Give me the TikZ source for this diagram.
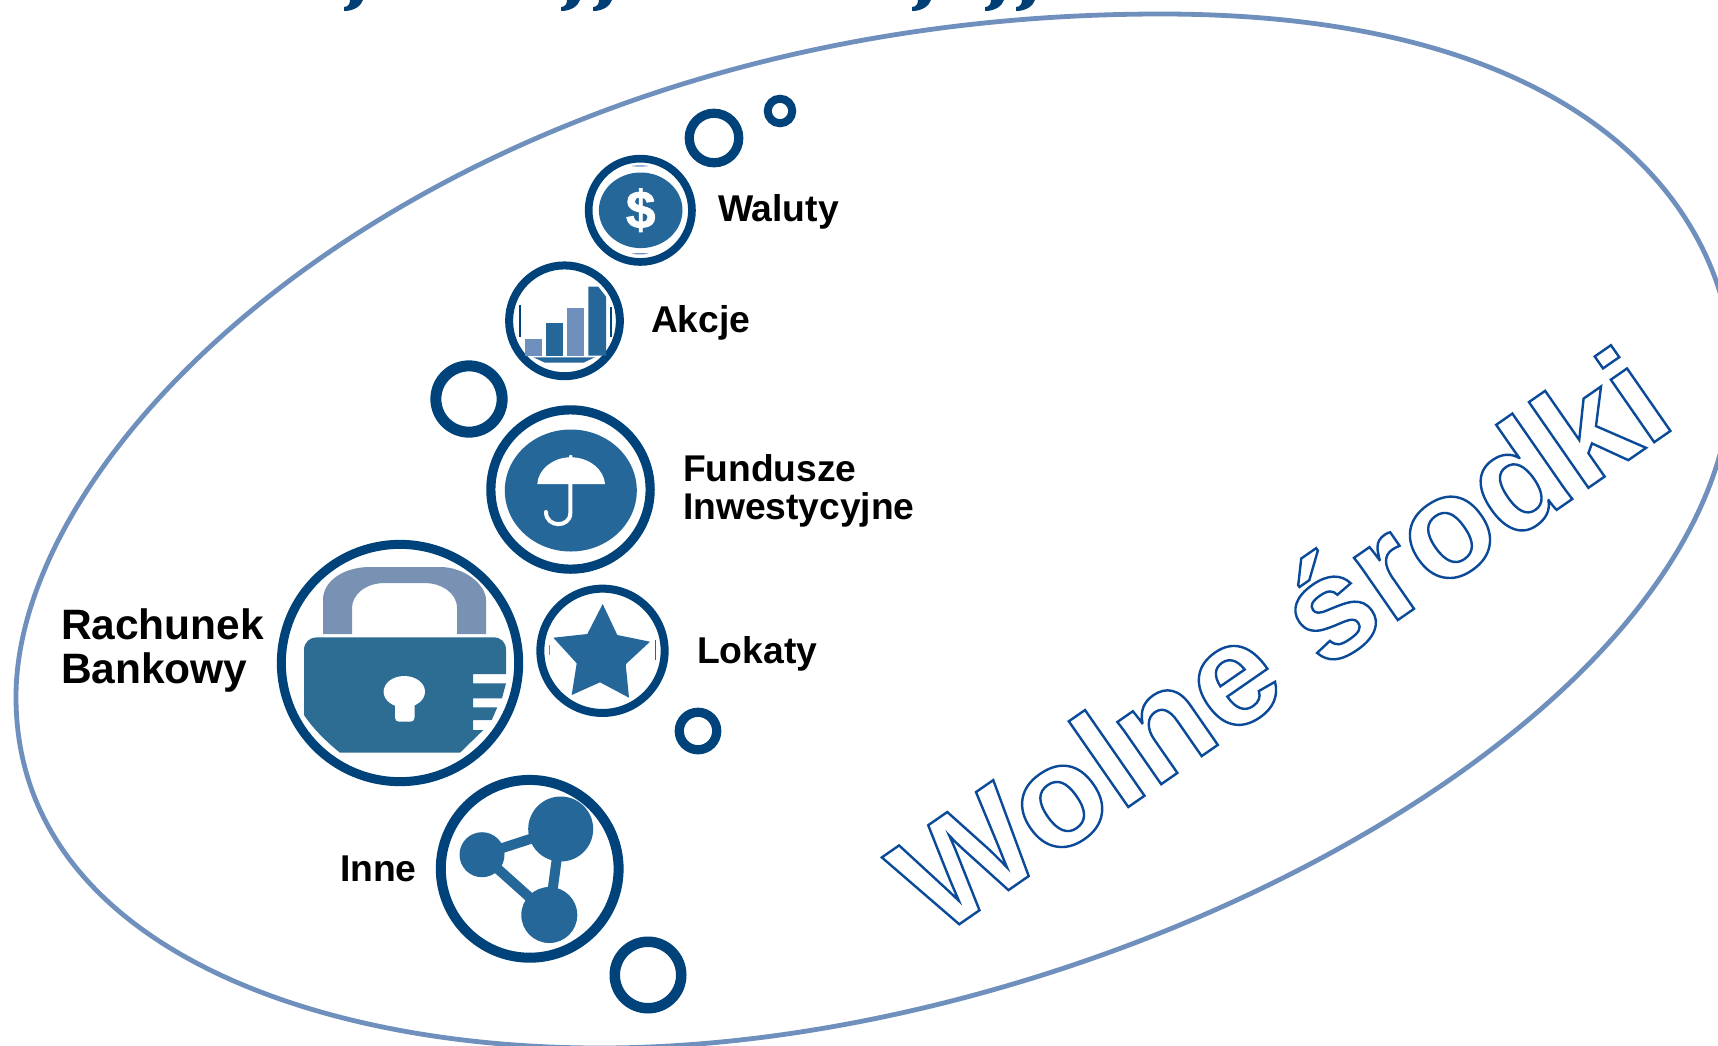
\documentclass[tikz,border=0pt]{standalone}
\usepackage{fontspec}
\setmainfont{Liberation Sans}
\definecolor{ringc}{HTML}{00437A}
\definecolor{iconc}{HTML}{26679A}
\definecolor{lightc}{HTML}{6F90BD}
\definecolor{lockb}{HTML}{2D6C93}
\definecolor{locks}{HTML}{7992B3}
\definecolor{titlec}{HTML}{003F75}
\tikzset{
  ringnode/.style={circle,draw=ringc,fill=none,inner sep=0pt,outer sep=0pt},
  lbl/.style={anchor=base west,inner sep=0pt,outer sep=0pt,text=black,font=\bfseries\fontsize{37.3}{38}\selectfont},
  lblbig/.style={anchor=west,align=left,inner sep=0pt,outer sep=0pt,text=black,font=\bfseries\fontsize{42.5}{44}\selectfont},
  lblfund/.style={anchor=west,align=left,inner sep=0pt,outer sep=0pt,text=black,font=\bfseries\fontsize{37.2}{38}\selectfont},
  icon/.style={fill=iconc,draw=none}
}
\begin{document}
\begin{tikzpicture}[x=1pt,y=-1pt]
\useasboundingbox (0,0) rectangle (1718,1045);
\clip (0,0) rectangle (1718,1045);
\fill[white] (0,0) rectangle (1718,1045);
% outer blob
\draw[lightc,line width=4.8pt] (1161,14)
  .. controls (461,14) and (16,427) .. (16,697)
  .. controls (16,937) and (300,1048) .. (600,1048)
  .. controls (1100,1048) and (1732,720) .. (1732,370)
  .. controls (1732,237) and (1618,14) .. (1161,14) -- cycle;
% title descenders
\foreach \tx in {344,561,593,912,985,1016}{
 \fill[titlec] (\tx+6,0) -- (\tx+19,0) .. controls (\tx+17,6) and (\tx+10,11) .. (\tx,11) -- (\tx,7) .. controls (\tx+4,7) and (\tx+6,4) .. (\tx+6,0) -- cycle;
}
% rings
\node[ringnode,line width=8pt,minimum size=24.5pt] (r1) at (780,111) {};
\node[ringnode,line width=9.2pt,minimum size=49.5pt] (r2) at (714,138) {};
\node[ringnode,line width=11pt,minimum size=66.3pt] (r3) at (469,399) {};
\node[ringnode,line width=9.2pt,minimum size=37.5pt] (r4) at (698,731) {};
\node[ringnode,line width=10.5pt,minimum size=66.5pt] (r5) at (648,975) {};
\node[ringnode,line width=7.7pt,minimum size=103.3pt] (walc) at (640.3,210.3) {};
\node[ringnode,line width=8pt,minimum size=110.8pt] (akc) at (564.5,320.8) {};
\node[ringnode,line width=9.2pt,minimum size=159.3pt] (fund) at (570.5,489.5) {};
\node[ringnode,line width=9pt,minimum size=237.3pt] (rach) at (400,663) {};
\node[ringnode,line width=8pt,minimum size=124.3pt] (lok) at (602.5,650.8) {};
\node[ringnode,line width=10pt,minimum size=177.8pt] (inn) at (529.7,868.8) {};
% dollar
\fill[iconc] (640.7,210.3) ellipse [x radius=41.8pt,y radius=37.8pt];
\fill[lightc] (640,166) ellipse [x radius=8pt,y radius=.6pt];
\fill[lightc] (640,253.7) ellipse [x radius=8pt,y radius=.6pt];
\node[inner sep=0pt,text=white,font=\bfseries\fontsize{53}{53}\selectfont\addfontfeature{FakeBold=1.6}] (dol) at (640.7,210.3) {\$};
% chart
\fill[lightc] (524.7,338.7) rectangle (542.3,355.7);
\fill[icon] (545.7,323) rectangle (563,355.7);
\fill[lightc] (567.3,308) rectangle (584.3,355.7);
\fill[icon] (588.3,355.7) -- (588.3,286.7) -- (598.3,286.7) -- (606,296.7) -- (606,355.7) -- cycle;
\fill[icon] (533.3,357.3) -- (595,357.3) -- (583.3,362.7) -- (545,362.7) -- cycle;
\fill[ringc] (519,305) rectangle (520.5,337);
\fill[ringc] (610,307) rectangle (611.5,337);
% umbrella
\fill[iconc] (570.8,490.5) ellipse [x radius=66pt,y radius=61pt];
\fill[white] (537.3,484) .. controls (538,470) and (552,458) .. (569,457.3) -- (569.5,455) -- (572,455) -- (572.5,457.3) .. controls (590,458) and (604,470) .. (605,484) -- cycle;
\draw[white,line width=4pt,line cap=round] (570.3,484) -- (570.3,513) .. controls (570.3,528) and (546,528) .. (546,512);
% lock
\fill[locks] (323,634) -- (323,600) .. controls (323,580) and (345,567) .. (370,567) -- (440,567) .. controls (465,567) and (486,585) .. (486,600) -- (486,634) -- (457,634) -- (457,608) .. controls (457,592) and (440,583) .. (425,583) -- (385,583) .. controls (365,583) and (352,595) .. (352,608) -- (352,634) -- cycle;
\fill[lockb] (304,650) .. controls (304,642) and (310,637.3) .. (317,637.3) -- (493,637.3) .. controls (501,637.3) and (506,642) .. (506,650) -- (506,674) -- (473,674) -- (473,683.3) -- (506,683.3) -- (502,698.3) -- (473,698.3) -- (473,707.3) -- (497.3,707.3) -- (491.7,720) -- (473,720) -- (473,730) -- (483.3,730) -- (460,752.7) -- (340,752.7) .. controls (328,743) and (314,730) .. (304,715) -- cycle;
\fill[white] (404.3,691.7) ellipse [x radius=20.7pt,y radius=15.7pt];
\fill[white,rounded corners=4pt] (395,695) -- (395,721.7) -- (414.5,721.7) -- (414.5,695) -- cycle;
% star
\fill[iconc] (602.7,604) -- (617.3,635) -- (650,641.7) -- (625.7,664.3) -- (629,697.7) -- (600,682.3) -- (571.7,695) -- (576.7,663.3) -- (553.3,637.7) -- (587.3,634) -- cycle;
\fill[lightc] (548.8,645) rectangle (549.6,655);
\fill[iconc] (654.6,640) rectangle (655.6,660);
% network
\coordinate (nb) at (560.7,829);
\coordinate (nl) at (482,854.7);
\coordinate (nd) at (549.3,915);
\draw[iconc,line width=10pt] (nb) -- (nl) -- (nd) -- cycle;
\fill[iconc] (nb) circle [radius=32.5pt];
\fill[iconc] (nl) circle [radius=22.5pt];
\fill[iconc] (nd) circle [radius=28pt];
% labels
\node[lbl] (lwal) at (718,221) {Waluty};
\node[lbl] (lakc) at (651,332) {Akcje};
\node[lblfund] (lfun) at (683,491) {Fundusze\\Inwestycyjne};
\node[lbl] (llok) at (697,663) {Lokaty};
\node[lblbig] (lrach) at (61,650) {Rachunek\\Bankowy};
\node[lbl] (linn) at (340,881) {Inne};
% outlined title
\node[anchor=base west,inner sep=0pt,rotate=34.75,font=\bfseries\fontsize{144}{144}\selectfont] (wolne) at (938,939)
 {\special{pdf:code 1 Tr 2.4 w 0.04 0.29 0.6 RG}Wolne środki\special{pdf:code 0 Tr}};
\end{tikzpicture}
\end{document}
